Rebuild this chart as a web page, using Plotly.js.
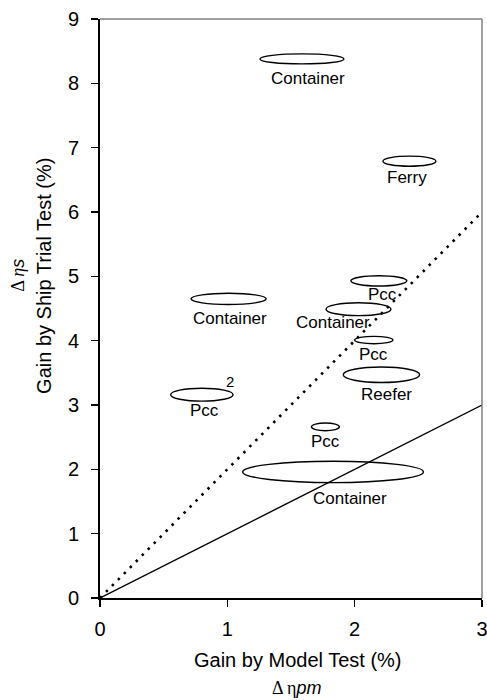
<!DOCTYPE html>
<html>
<head>
<meta charset="utf-8">
<script src="https://cdn.plot.ly/plotly-3.0.1.min.js"></script>
<style>html,body{margin:0;padding:0;background:#fff;}#chart{width:487px;height:700px;}</style>
</head>
<body>
<div id="chart"></div>
<script>
// Ellipse data (centre x, centre y, half-width, half-height) in data units
var shipTypes = ["Container", "Ferry", "Pcc", "Container", "Container", "Pcc", "Reefer", "Pcc", "Pcc", "Container"];
var centreX   = [1.586, 2.43, 2.19, 1.01, 2.03, 2.15, 2.21, 0.80, 1.77, 1.83];
var centreY   = [8.38, 6.79, 4.93, 4.65, 4.49, 4.01, 3.47, 3.16, 2.66, 1.96];
var halfW     = [0.33, 0.208, 0.22, 0.295, 0.255, 0.15, 0.30, 0.245, 0.11, 0.71];
var halfH     = [0.078, 0.078, 0.08, 0.088, 0.10, 0.057, 0.12, 0.10, 0.06, 0.166];
var labelX    = [1.63, 2.41, 2.22, 1.02, 1.83, 2.15, 2.25, 0.82, 1.77, 1.96];
var labelY    = [8.08, 6.53, 4.72, 4.35, 4.29, 3.78, 3.17, 2.91, 2.44, 1.54];

// Reference lines
var lineX = [0, 3];
var solidY = [0, 3];
var dottedY = [0, 6];

var xTicks = [0, 1, 2, 3];
var yTicks = [0, 1, 2, 3, 4, 5, 6, 7, 8, 9];

var FONT = "Liberation Sans, Arial, sans-serif";

var traces = [
  {x: lineX, y: solidY, mode: "lines", line: {color: "#000", width: 1.4}, hoverinfo: "skip"},
  {x: lineX, y: dottedY, mode: "lines", line: {color: "#000", width: 2.6, dash: "2.5px,6px"}, hoverinfo: "skip"}
];

var shapes = [];
for (var i = 0; i < centreX.length; i++) {
  shapes.push({
    type: "circle", xref: "x", yref: "y",
    x0: centreX[i] - halfW[i], x1: centreX[i] + halfW[i],
    y0: centreY[i] - halfH[i], y1: centreY[i] + halfH[i],
    line: {color: "#000", width: 1.4}, fillcolor: "rgba(0,0,0,0)"
  });
}
// top and right frame lines
shapes.push({type: "line", xref: "paper", yref: "paper", x0: 0, x1: 1, y0: 1, y1: 1, line: {color: "#808080", width: 1.5}});
shapes.push({type: "line", xref: "paper", yref: "paper", x0: 1, x1: 1, y0: 0, y1: 1, line: {color: "#808080", width: 1.5}});

var annotations = [];
for (var j = 0; j < shipTypes.length; j++) {
  annotations.push({
    x: labelX[j], y: labelY[j], xref: "x", yref: "y", text: shipTypes[j],
    xanchor: "center", yanchor: "middle",
    showarrow: false, font: {family: FONT, size: 17, color: "#000"}
  });
}
annotations.push({x: 1.02, y: 3.36, xref: "x", yref: "y", text: "2", showarrow: false,
  xanchor: "center", yanchor: "middle", font: {family: FONT, size: 15, color: "#000"}});

// axis titles
annotations.push({x: 0.518, y: -0.107, xref: "paper", yref: "paper", text: "Gain by Model Test (%)",
  xanchor: "center", yanchor: "middle",
  showarrow: false, font: {family: FONT, size: 20, color: "#000"}});
annotations.push({x: 0.516, y: -0.155, xref: "paper", yref: "paper",
  text: '<span style="font-family:Liberation Serif">Δ η</span><i>pm</i>',
  xanchor: "center", yanchor: "middle",
  showarrow: false, font: {family: FONT, size: 18, color: "#000"}});
annotations.push({x: -0.147, y: 0.556, xref: "paper", yref: "paper", text: "Gain by Ship Trial Test (%)",
  xanchor: "center", yanchor: "middle",
  showarrow: false, textangle: -90, font: {family: FONT, size: 20, color: "#000"}});
annotations.push({x: -0.215, y: 0.558, xref: "paper", yref: "paper",
  text: '<span style="font-family:Liberation Serif">Δ <i>η</i></span><i>s</i>',
  xanchor: "center", yanchor: "middle",
  showarrow: false, textangle: -90, font: {family: FONT, size: 18, color: "#000"}});

var layout = {
  width: 487, height: 700,
  margin: {l: 100, r: 5, t: 19, b: 102},
  paper_bgcolor: "#fff", plot_bgcolor: "#fff",
  showlegend: false,
  font: {family: FONT, color: "#000"},
  xaxis: {
    range: [0, 3], tickvals: xTicks, ticktext: xTicks.map(String),
    showgrid: false, zeroline: false, showline: true, linecolor: "#000", linewidth: 2,
    ticks: "outside", ticklen: 7, tickwidth: 1.3, tickcolor: "#000",
    tickfont: {family: FONT, size: 20, color: "#000"}, ticklabelstandoff: 5,
    ticklabeloverflow: "allow"
  },
  yaxis: {
    range: [0, 9], tickvals: yTicks, ticktext: yTicks.map(String),
    showgrid: false, zeroline: false, showline: true, linecolor: "#000", linewidth: 2,
    ticks: "outside", ticklen: 7, tickwidth: 1.3, tickcolor: "#000",
    tickfont: {family: FONT, size: 20, color: "#000"}, ticklabelstandoff: 8,
    ticklabeloverflow: "allow"
  },
  shapes: shapes,
  annotations: annotations
};

Plotly.newPlot("chart", traces, layout, {staticPlot: true, displayModeBar: false});
</script>
</body>
</html>
